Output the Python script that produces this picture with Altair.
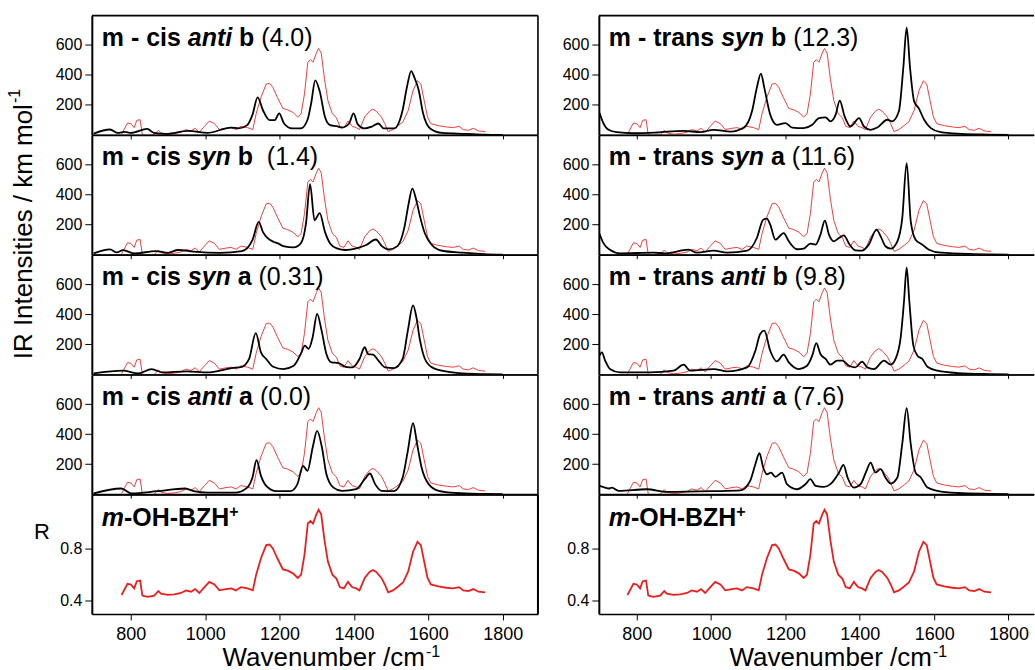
import altair as alt
import pandas as pd

FONT = "Liberation Sans"

# ---------------- experimental spectrum (fragmentation yield R) ----------------
exp_wn = [775, 791, 800, 809, 816, 825, 831, 845, 863, 874, 881, 899, 917, 935, 948, 962, 973, 984, 998, 1011,
          1025, 1038, 1056, 1070, 1083, 1096, 1114, 1128, 1137, 1150, 1164, 1173, 1182, 1194, 1209, 1222, 1236, 1249, 1258, 1267,
          1276, 1283, 1290, 1299, 1305, 1312, 1321, 1330, 1342, 1353, 1362, 1373, 1384, 1395, 1406, 1415, 1429, 1442, 1451, 1460,
          1474, 1483, 1492, 1505, 1519, 1532, 1546, 1559, 1571, 1580, 1589, 1598, 1607, 1627, 1649, 1667, 1683, 1694, 1708, 1721,
          1735, 1753]
exp_R = [0.445, 0.53, 0.525, 0.495, 0.55, 0.555, 0.44, 0.43, 0.44, 0.475, 0.455, 0.445, 0.45, 0.46, 0.48, 0.47, 0.49, 0.46, 0.505, 0.545,
         0.525, 0.48, 0.49, 0.495, 0.48, 0.505, 0.495, 0.48, 0.6, 0.725, 0.825, 0.83, 0.8, 0.725, 0.64, 0.63, 0.61, 0.575, 0.6, 0.75,
         0.99, 1.01, 0.99, 1.06, 1.095, 1.06, 0.86, 0.7, 0.6, 0.57, 0.505, 0.495, 0.545, 0.505, 0.495, 0.48, 0.575, 0.62, 0.635, 0.62,
         0.575, 0.525, 0.465, 0.48, 0.51, 0.54, 0.625, 0.775, 0.85, 0.825, 0.7, 0.575, 0.525, 0.51, 0.5, 0.495, 0.505, 0.48, 0.475, 0.49,
         0.47, 0.465]

# ---------------- computed IR spectra (km/mol) ----------------
cis_anti_b_wn = [700, 744, 765, 783, 800, 844, 862, 895, 955, 1006, 1069, 1090, 1113, 1127, 1141, 1155, 1173, 1187, 1199, 1212,
                 1234, 1257, 1275, 1285, 1296, 1308, 1322, 1336, 1354, 1368, 1387, 1399, 1410, 1429, 1447, 1466, 1480, 1508, 1531, 1543,
                 1554, 1563, 1574, 1586, 1605, 1637, 1702, 1750, 1800]
cis_anti_b_I = [9, 36, 13, 20, 13, 40, 13, 7, 27, 13, 49, 43, 65, 133, 250, 166, 99, 99, 144, 76,
                43, 43, 99, 211, 364, 290, 121, 65, 58, 49, 76, 144, 72, 43, 54, 76, 43, 43, 166, 324,
                425, 380, 301, 144, 43, 13, 7, 2, 0]

cis_syn_b_wn = [700, 744, 762, 779, 810, 867, 900, 927, 969, 1040, 1099, 1127, 1144, 1155, 1169, 1183, 1196, 1210, 1238, 1257,
                1271, 1282, 1294, 1308, 1322, 1336, 1354, 1378, 1406, 1433, 1459, 1475, 1494, 1517, 1536, 1547, 1557, 1568, 1577, 1591,
                1610, 1638, 1693, 1750, 1800]
cis_syn_b_I = [8, 35, 15, 30, 8, 24, 12, 31, 20, 12, 24, 97, 218, 152, 108, 86, 75, 57, 48, 75,
               207, 470, 229, 277, 152, 75, 42, 31, 42, 64, 101, 57, 35, 57, 185, 338, 440, 360, 262, 141,
               64, 26, 13, 4, 0]

cis_syn_a_wn = [700, 779, 820, 856, 885, 950, 1006, 1071, 1099, 1118, 1136, 1150, 1164, 1183, 1210, 1238, 1257, 1268, 1278, 1289,
                1301, 1313, 1326, 1340, 1359, 1378, 1396, 1415, 1429, 1438, 1452, 1466, 1484, 1508, 1531, 1545, 1559, 1568, 1577, 1591,
                1610, 1647, 1693, 1750, 1800]
cis_syn_a_I = [7, 25, 7, 36, 13, 20, 13, 42, 51, 103, 275, 147, 103, 51, 36, 58, 136, 192, 170, 248,
               404, 292, 136, 80, 76, 51, 47, 103, 181, 136, 132, 92, 47, 42, 103, 292, 460, 382, 237, 103,
               47, 20, 7, 2, 0]

cis_anti_a_wn = [700, 774, 802, 871, 946, 969, 1006, 1080, 1113, 1127, 1138, 1150, 1164, 1192, 1229, 1248, 1263, 1275, 1289, 1301,
                 1314, 1326, 1345, 1368, 1406, 1429, 1443, 1457, 1475, 1508, 1531, 1545, 1559, 1570, 1582, 1601, 1628, 1675, 1750, 1800]
cis_anti_a_I = [5, 38, 5, 20, 38, 20, 10, 10, 44, 111, 227, 122, 56, 20, 20, 67, 189, 156, 311, 422,
                311, 133, 44, 22, 33, 100, 138, 67, 22, 20, 111, 289, 473, 333, 178, 67, 22, 8, 2, 0]

trans_syn_b_wn = [700, 710, 724, 746, 791, 854, 926, 971, 1007, 1052, 1088, 1110, 1123, 1134, 1143, 1159, 1177, 1200, 1218, 1249,
                  1272, 1290, 1308, 1321, 1335, 1346, 1359, 1375, 1398, 1411, 1429, 1447, 1474, 1487, 1505, 1517, 1526, 1535, 1546, 1559,
                  1573, 1591, 1618, 1672, 1743, 1800]
trans_syn_b_I = [146, 79, 34, 18, 11, 16, 27, 18, 34, 22, 49, 157, 315, 409, 315, 135, 67, 79, 49, 45,
                 67, 112, 117, 90, 135, 229, 124, 56, 112, 56, 34, 49, 101, 90, 157, 449, 715, 449, 225, 175,
                 101, 45, 18, 7, 2, 0]

trans_syn_a_wn = [700, 710, 728, 755, 845, 876, 939, 962, 1007, 1043, 1097, 1123, 1140, 1150, 1159, 1173, 1195, 1209, 1231, 1249,
                  1267, 1281, 1294, 1306, 1317, 1330, 1344, 1357, 1371, 1388, 1406, 1424, 1445, 1456, 1469, 1483, 1501, 1514, 1526, 1537,
                  1550, 1568, 1586, 1618, 1707, 1750, 1800]
trans_syn_a_I = [138, 78, 33, 9, 13, 9, 33, 13, 27, 13, 27, 111, 233, 240, 200, 100, 144, 89, 36, 40,
                 73, 67, 133, 227, 133, 89, 111, 129, 73, 29, 27, 67, 167, 122, 56, 40, 89, 240, 610, 222,
                 100, 67, 33, 13, 4, 2, 0]

trans_anti_b_wn = [700, 706, 715, 728, 755, 836, 899, 926, 944, 1007, 1043, 1097, 1119, 1132, 1143, 1159, 1177, 1195, 1209, 1236,
                   1258, 1272, 1283, 1294, 1308, 1321, 1339, 1353, 1371, 1388, 1406, 1420, 1438, 1465, 1483, 1496, 1510, 1519, 1526, 1533,
                   1544, 1555, 1568, 1582, 1609, 1663, 1750, 1800]
trans_anti_b_I = [125, 147, 92, 36, 13, 13, 25, 65, 25, 36, 20, 47, 158, 270, 292, 158, 87, 132, 80, 36,
                  58, 125, 208, 136, 103, 65, 92, 92, 58, 47, 85, 47, 36, 92, 65, 103, 248, 493, 712, 493,
                  192, 125, 103, 51, 25, 9, 2, 0]

trans_anti_a_wn = [700, 715, 724, 733, 751, 827, 881, 1007, 1079, 1105, 1119, 1130, 1140, 1150, 1161, 1173, 1191, 1204, 1231, 1254,
                   1267, 1281, 1303, 1321, 1344, 1356, 1367, 1384, 1402, 1418, 1429, 1442, 1456, 1469, 1483, 1501, 1514, 1526, 1537, 1550,
                   1564, 1582, 1609, 1663, 1750, 1800]
trans_anti_a_I = [56, 44, 38, 44, 22, 33, 15, 20, 25, 89, 200, 273, 178, 133, 144, 116, 144, 67, 33, 67,
                  100, 56, 49, 67, 144, 196, 111, 44, 67, 156, 211, 144, 167, 111, 71, 111, 333, 573, 333, 144,
                  111, 44, 22, 8, 2, 0]

# panel labels: (key, bold prefix, bold-italic word, bold suffix, relative energy)
left_labels = [("cis_anti_b", "m - cis ", "anti", " b ", "(4.0)"),
               ("cis_syn_b", "m - cis ", "syn", " b  ", "(1.4)"),
               ("cis_syn_a", "m - cis ", "syn", " a ", "(0.31)"),
               ("cis_anti_a", "m - cis ", "anti", " a ", "(0.0)")]
right_labels = [("trans_syn_b", "m - trans ", "syn", " b ", "(12.3)"),
                ("trans_syn_a", "m - trans ", "syn", " a ", "(11.6)"),
                ("trans_anti_b", "m - trans ", "anti", " b ", "(9.8)"),
                ("trans_anti_a", "m - trans ", "anti", " a ", "(7.6)")]
x_ticks = [800, 1000, 1200, 1400, 1600, 1800]

calc = {
    "cis_anti_b": (cis_anti_b_wn, cis_anti_b_I),
    "cis_syn_b": (cis_syn_b_wn, cis_syn_b_I),
    "cis_syn_a": (cis_syn_a_wn, cis_syn_a_I),
    "cis_anti_a": (cis_anti_a_wn, cis_anti_a_I),
    "trans_syn_b": (trans_syn_b_wn, trans_syn_b_I),
    "trans_syn_a": (trans_syn_a_wn, trans_syn_a_I),
    "trans_anti_b": (trans_anti_b_wn, trans_anti_b_I),
    "trans_anti_a": (trans_anti_a_wn, trans_anti_a_I),
}

exp_df = pd.DataFrame({"wn": exp_wn, "R": exp_R})
calc_df = pd.concat([pd.DataFrame({"conf": k, "wn": v[0], "I": v[1]}) for k, v in calc.items()], ignore_index=True)

# ---------------- geometry ----------------
W_L, W_R, H = 447, 436, 119.5
XL = alt.Scale(domain=[695, 1895], nice=False, zero=False)
XR = alt.Scale(domain=[698, 1868.5], nice=False, zero=False)
YI = alt.Scale(domain=[0, 795], nice=False, zero=False)
YE = alt.Scale(domain=[0.44, 1.3434], nice=False, zero=False)
YB = alt.Scale(domain=[0.3, 1.21], nice=False, zero=False)

# Arial / Liberation Sans advance widths (per 1000 em)
REG_W = dict(zip("abcdefghijklmnopqrstuvwxyz", [556, 556, 500, 556, 556, 278, 556, 556, 222, 222, 500, 222, 833, 556, 556, 556, 556, 333, 500, 278, 556, 500, 722, 500, 500, 500]))
BOLD_W = dict(zip("abcdefghijklmnopqrstuvwxyz", [556, 611, 556, 611, 556, 333, 611, 611, 278, 278, 556, 278, 889, 611, 611, 611, 611, 389, 556, 333, 611, 556, 778, 556, 556, 500]))
for tbl in (REG_W, BOLD_W):
    tbl.update({c: 556 for c in "0123456789"})
    tbl.update({" ": 278, "-": 333, "(": 333, ")": 333, ".": 278, "/": 278, "+": 584})
REG_W.update({"I": 278, "R": 722, "W": 944})
BOLD_W.update({"B": 722, "H": 722, "O": 778, "Z": 611})


def tw(s, weight, size):
    t = BOLD_W if weight == "bold" else REG_W
    return sum(t.get(c, 556) for c in s) * size / 1000.0


def one(value):
    return alt.Data(values=[{"t": value}])


def text_run(parts, x0, y0):
    """parts: (text, weight, style, size, dy) placed one after another."""
    out = []
    x = x0
    for text, weight, style, size, dy in parts:
        s = text.strip()
        lead = len(text) - len(text.lstrip())
        trail = len(text) - len(text.rstrip())
        x += tw(" " * lead, weight, size)
        if s:
            out.append(alt.Chart(one(s)).mark_text(align="left", baseline="alphabetic", font=FONT, fontSize=size,
                                                   fontWeight=weight, fontStyle=style, color="black")
                       .encode(text="t:N", x=alt.value(x), y=alt.value(y0 + dy)))
        x += tw(s, weight, size) + tw(" " * trail, weight, size)
    return out


def borders(width, height, right, sw):
    d = alt.Data(values=[{"k": 1}])
    out = [alt.Chart(d).mark_rule(color="black", strokeWidth=sw)
           .encode(x=alt.value(0), x2=alt.value(width), y=alt.value(0))]
    if right:
        out.append(alt.Chart(d).mark_rule(color="black", strokeWidth=sw)
                   .encode(x=alt.value(width), y=alt.value(0), y2=alt.value(height)))
    return out


def x_axis(labels):
    return alt.Axis(values=x_ticks, labels=labels, format="d", ticks=True, tickSize=6 if labels else 4,
                    tickColor="black", tickWidth=1, domain=True, domainColor="black",
                    domainWidth=1.6 if labels else 1.4, grid=False, title=None, labelFont=FONT, labelFontSize=18,
                    labelColor="black", labelPadding=6)


y_axis_I = alt.Axis(values=[200, 400, 600], tickSize=7, tickColor="black", tickWidth=1, domainColor="black",
                    domainWidth=2, grid=False, title=None, labelFont=FONT, labelFontSize=16, labelPadding=3,
                    labelColor="black")
y_axis_R = alt.Axis(values=[0.4, 0.8], format=".1f", tickSize=7, tickColor="black", tickWidth=1,
                    domainColor="black", domainWidth=2, grid=False, title=None, labelFont=FONT, labelFontSize=16,
                    labelPadding=3, labelColor="black")


def spectrum_panel(lab, xs, width, right_border, extra=()):
    key, pre, ital, suf, energy = lab
    red = alt.Chart(exp_df).mark_line(color="#f33c3c", strokeWidth=1.0, clip=True).encode(
        x=alt.X("wn:Q", scale=xs, axis=x_axis(False)),
        y=alt.Y("R:Q", scale=YE, axis=None))
    black = alt.Chart(calc_df).transform_filter(alt.datum.conf == key).mark_line(
        color="black", strokeWidth=1.8, clip=True, interpolate="monotone").encode(
        x=alt.X("wn:Q", scale=xs, axis=x_axis(False)),
        y=alt.Y("I:Q", scale=YI, axis=y_axis_I))
    parts = [(pre, "bold", "normal", 25, 0), (ital, "bold", "italic", 25, 0),
             (suf, "bold", "normal", 25, 0), (energy, "normal", "normal", 25, 0)]
    layers = [red, black] + text_run(parts, 10, 30) + borders(width, H, right_border, 1.6) + list(extra)
    return alt.layer(*layers).resolve_scale(y="independent").properties(width=width, height=H)


def exp_panel(xs, width, right_border, with_R):
    red = alt.Chart(exp_df).mark_line(color="#ee1d1d", strokeWidth=1.8, clip=True).encode(
        x=alt.X("wn:Q", scale=xs, axis=x_axis(True)),
        y=alt.Y("R:Q", scale=YB, axis=y_axis_R))
    lab = text_run([("m", "bold", "italic", 25, 0), ("-OH-BZH", "bold", "normal", 25, 0),
                    ("+", "bold", "normal", 16, -9)], 10, 31)
    xt = text_run([("Wavenumber /cm", "normal", "normal", 26, 0), ("-1", "normal", "normal", 16, -8.5)], 131, 171.5)
    layers = [red] + lab + xt + borders(width, H, right_border, 2)
    if with_R:
        layers.append(alt.Chart(one("R")).mark_text(align="center", baseline="alphabetic", font=FONT, fontSize=22,
                                                    color="black").encode(text="t:N", x=alt.value(-50), y=alt.value(44)))
    return alt.layer(*layers).properties(width=width, height=H)


ytitle = [
    alt.Chart(one("IR Intensities / km mol")).mark_text(angle=270, align="center", baseline="middle", font=FONT,
                                                         fontSize=26, color="black")
    .encode(text="t:N", x=alt.value(-68), y=alt.value(216.5)),
    alt.Chart(one("-1")).mark_text(angle=270, align="center", baseline="middle", font=FONT, fontSize=16,
                                   color="black")
    .encode(text="t:N", x=alt.value(-77), y=alt.value(80.5)),
]

left_panels = [spectrum_panel(lab, XL, W_L, True, ytitle if i == 0 else ()) for i, lab in enumerate(left_labels)]
left_panels.append(exp_panel(XL, W_L, True, True))
right_panels = [spectrum_panel(lab, XR, W_R, False) for lab in right_labels]
right_panels.append(exp_panel(XR, W_R, False, False))

left_col = alt.vconcat(*left_panels, spacing=0, bounds="flush")
right_col = alt.vconcat(*right_panels, spacing=0, bounds="flush")

chart = alt.hconcat(left_col, right_col, spacing=23).properties(
    padding={"left": 7, "top": 14, "right": 0, "bottom": 0},
    background="white",
).configure_view(stroke=None)

chart.save("out.html", embed_options={"renderer": "svg", "actions": False})
